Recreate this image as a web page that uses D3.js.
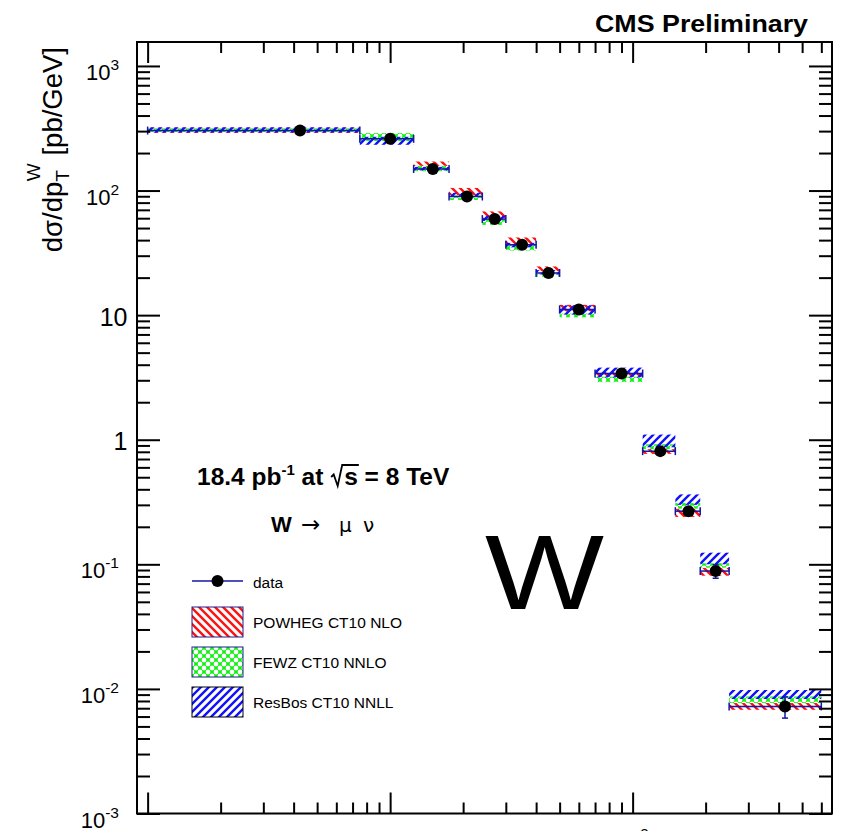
<!DOCTYPE html>
<html><head><meta charset="utf-8">
<script src="https://cdn.jsdelivr.net/npm/d3@7"></script>
<style>body{margin:0;background:#fff}svg{display:block;font-family:"Liberation Sans",Arial,Helvetica,sans-serif}</style>
</head><body><svg id="c" width="864" height="831"></svg>
<script>
// ---- data ----
const binLow  = [1, 7.5, 12.5, 17.5, 24, 30, 40, 50, 70, 110, 150, 190, 250];
const binHigh = [7.5, 12.5, 17.5, 24, 30, 40, 50, 70, 110, 150, 190, 250, 600];
const binCenter = [4.25, 10, 15, 20.75, 27, 35, 45, 60, 90, 130, 170, 220, 425];
const dataVal = [303, 260, 149, 89.6, 59, 36.7, 21.8, 11.1, 3.40, 0.81, 0.267, 0.0883, 0.00723];
const dataErr = [3, 3, 2, 1.3, 0.9, 0.6, 0.4, 0.25, 0.08, 0.03, 0.018, 0.011, 0.0014];
const powhegLow  = [290, 250, 155, 92, 59, 37, 22.4, 10.7, 3.2, 0.77, 0.24, 0.081, 0.0068];
const powhegHigh = [320, 285, 171, 105, 68, 42, 24.6, 12.1, 3.5, 0.87, 0.28, 0.094, 0.0078];
const fewzLow    = [295, 250, 143, 84, 53, 33, 20.3, 9.6, 2.9, 0.84, 0.28, 0.094, 0.0077];
const fewzHigh   = [315, 290, 158, 91, 58, 37, 21.5, 10.3, 3.2, 0.92, 0.31, 0.102, 0.0087];
const resbosLow  = [292, 233, 145, 89, 57, 35, 21.2, 10.1, 3.16, 0.87, 0.30, 0.100, 0.0083];
const resbosHigh = [322, 270, 155, 96, 63, 38, 23.0, 12.0, 3.79, 1.10, 0.364, 0.124, 0.0098];
const yTickValues = [1e-3, 1e-2, 1e-1, 1, 10, 100, 1000];
const yTickBase   = ["10", "10", "10", "1", "10", "10", "10"];
const yTickExp    = ["-3", "-2", "-1", "", "", "2", "3"];
const xTickValues = [1, 10, 100];
const xLabelValues = [100];          // only this label reaches into the visible area
const xLabelBase   = ["10"];
const xLabelExp    = ["2"];
const legendLabels = ["data", "POWHEG CT10 NLO", "FEWZ CT10 NNLO", "ResBos CT10 NNLL"];

// ---- layout ----
const L = 137, R = 832, T = 42, B = 813.5;
const x = d3.scaleLog().domain([0.904, 664]).range([L, R]);
const y = d3.scaleLog().domain([1e-3, 1557]).range([B, T]);
const svg = d3.select('#c');
const defs = svg.append('defs');
const blueLine = '#1414a8';

// patterns
const pr = defs.append('pattern').attr('id','pRed').attr('patternUnits','userSpaceOnUse').attr('width',8).attr('height',8);
pr.append('path').attr('d','M0,0 L8,8 M-4,4 L4,12 M4,-4 L12,4').attr('stroke','#ff1010').attr('stroke-width',2.4);
const pb = defs.append('pattern').attr('id','pBlue').attr('patternUnits','userSpaceOnUse').attr('width',8).attr('height',8);
pb.append('path').attr('d','M0,8 L8,0 M-4,4 L4,-4 M4,12 L12,4').attr('stroke','#1010ff').attr('stroke-width',2.4);
const pg = defs.append('pattern').attr('id','pGreen').attr('patternUnits','userSpaceOnUse').attr('width',8).attr('height',8);
pg.append('rect').attr('width',8).attr('height',8).attr('fill','#10f010');
[[0,0],[8,0],[0,8],[8,8],[4,4]].forEach(p=>pg.append('circle').attr('cx',p[0]).attr('cy',p[1]).attr('r',2.4).attr('fill','#fff'));

// bands
const models = [
  {id:'pRed', lo:powhegLow, hi:powhegHigh},
  {id:'pGreen', lo:fewzLow, hi:fewzHigh},
  {id:'pBlue', lo:resbosLow, hi:resbosHigh}
];
models.forEach(m => {
  svg.append('g').selectAll('rect').data(binLow).join('rect')
    .attr('x', (d,i) => x(binLow[i]))
    .attr('width', (d,i) => x(binHigh[i]) - x(binLow[i]))
    .attr('y', (d,i) => y(m.hi[i]))
    .attr('height', (d,i) => y(m.lo[i]) - y(m.hi[i]))
    .attr('fill', `url(#${m.id})`);
});

// data error bars
const gd = svg.append('g').attr('stroke', blueLine).attr('stroke-width', 1.5).attr('fill','none');
dataVal.forEach((v,i) => {
  const yy = y(v), x0 = x(binLow[i]), x1 = x(binHigh[i]), xc = x(binCenter[i]);
  gd.append('line').attr('x1',x0).attr('x2',x1).attr('y1',yy).attr('y2',yy);
  gd.append('line').attr('x1',x0).attr('x2',x0).attr('y1',yy-4).attr('y2',yy+4);
  gd.append('line').attr('x1',x1).attr('x2',x1).attr('y1',yy-4).attr('y2',yy+4);
  const ya = y(v + dataErr[i]), yb = y(v - dataErr[i]);
  gd.append('line').attr('x1',xc).attr('x2',xc).attr('y1',ya).attr('y2',yb);
  if (yb - ya > 10) {
    gd.append('line').attr('x1',xc-3).attr('x2',xc+3).attr('y1',ya).attr('y2',ya);
    gd.append('line').attr('x1',xc-3).attr('x2',xc+3).attr('y1',yb).attr('y2',yb);
  }
});
svg.append('g').selectAll('circle').data(dataVal).join('circle')
  .attr('cx', (d,i) => x(binCenter[i])).attr('cy', d => y(d)).attr('r', 6).attr('fill', '#000');

// axes
const yMinor = [];
for (let k = -3; k <= 3; k++) for (let m = 2; m <= 9; m++) { const v = m * Math.pow(10,k); if (v < 1557) yMinor.push(v); }
const xMinor = [];
for (let k = 0; k <= 2; k++) for (let m = 2; m <= 9; m++) { const v = m * Math.pow(10,k); if (v < 664) xMinor.push(v); }
function styleAxis(g){ g.select('.domain').remove(); g.selectAll('line').attr('stroke','#000').attr('stroke-width',2); g.selectAll('text').remove(); }
svg.append('g').attr('transform',`translate(${L},0)`).call(d3.axisRight(y).tickValues(yTickValues).tickSize(23).tickFormat('')).call(styleAxis);
svg.append('g').attr('transform',`translate(${L},0)`).call(d3.axisRight(y).tickValues(yMinor).tickSize(13).tickFormat('')).call(styleAxis);
svg.append('g').attr('transform',`translate(${R},0)`).call(d3.axisLeft(y).tickValues(yTickValues).tickSize(23).tickFormat('')).call(styleAxis);
svg.append('g').attr('transform',`translate(${R},0)`).call(d3.axisLeft(y).tickValues(yMinor).tickSize(13).tickFormat('')).call(styleAxis);
svg.append('g').attr('transform',`translate(0,${B})`).call(d3.axisTop(x).tickValues(xTickValues).tickSize(21).tickFormat('')).call(styleAxis);
svg.append('g').attr('transform',`translate(0,${B})`).call(d3.axisTop(x).tickValues(xMinor).tickSize(11).tickFormat('')).call(styleAxis);
svg.append('g').attr('transform',`translate(0,${T})`).call(d3.axisBottom(x).tickValues(xTickValues).tickSize(21).tickFormat('')).call(styleAxis);
svg.append('g').attr('transform',`translate(0,${T})`).call(d3.axisBottom(x).tickValues(xMinor).tickSize(11).tickFormat('')).call(styleAxis);
svg.append('rect').attr('x',L).attr('y',T).attr('width',R-L).attr('height',B-T).attr('fill','none').attr('stroke','#000').attr('stroke-width',2);

// y tick labels
yTickValues.forEach((v,i) => {
  if (yTickExp[i] === '') {
    svg.append('text').attr('x',127.5).attr('y',y(v)+10.5).attr('text-anchor','end').attr('font-size',25).text(yTickBase[i]);
  } else {
    const t = svg.append('text').attr('x',119).attr('y',y(v)+14).attr('text-anchor','end').attr('font-size',22);
    t.append('tspan').text(yTickBase[i]);
    t.append('tspan').attr('dy',-10).attr('font-size',15.5).text(yTickExp[i]);
  }
});
// x tick label (only the exponent peeks into view)
xLabelValues.forEach((v,i) => {
  const t = svg.append('text').attr('x',x(v)).attr('y',850).attr('text-anchor','middle').attr('font-size',21);
  t.append('tspan').text(xLabelBase[i]);
  t.append('tspan').attr('dy',-11).attr('font-size',15).text(xLabelExp[i]);
});

// y title
const yt = svg.append('text').attr('transform','translate(62,47) rotate(-90)').attr('text-anchor','end').attr('font-size',27.5);
yt.append('tspan').text('dσ/dp');
yt.append('tspan').attr('font-size',19).attr('dy',7).text('T');
yt.append('tspan').attr('font-size',19).attr('dx',-11).attr('dy',-29).text('W');
yt.append('tspan').attr('dy',22).text(' [pb/GeV]');

// titles
svg.append('text').attr('x',595).attr('y',32).attr('font-size',23).attr('font-weight','bold').attr('textLength',213).attr('lengthAdjust','spacingAndGlyphs').text('CMS Preliminary');
const fs = 24.5;
const by = 485;
const lt = svg.append('text').attr('x',197).attr('y',by).attr('font-size',fs).attr('font-weight','bold');
lt.append('tspan').text('18.4 pb');
lt.append('tspan').attr('dy',-10).attr('font-size',15).text('-1');
lt.append('tspan').attr('dy',10).text(' at ');
lt.append('tspan').attr('dx',14).text('s = 8 TeV');
const full = lt.text();
const sIdx = full.indexOf('s = 8');
const ext = lt.node().getExtentOfChar(sIdx);
const sx0 = ext.x, sx1 = ext.x + ext.width;
// radical sign drawn as a path (as in ROOT's #sqrt)
svg.append('path')
  .attr('d', `M${sx0-13},${by-8} L${sx0-10.5},${by-10.5} L${sx0-6.5},${by+1} L${sx0-2},${by-20} L${sx1+1},${by-20}`)
  .attr('fill','none').attr('stroke','#000').attr('stroke-width',1.8).attr('stroke-linejoin','miter');

const wt = svg.append('text').attr('y',532).attr('font-size',22);
wt.append('tspan').attr('x',271).attr('font-weight','bold').text('W');
wt.append('tspan').attr('x',301).attr('font-family','DejaVu Sans').attr('font-size',23).text('→');
wt.append('tspan').attr('x',339).attr('font-family','DejaVu Sans').attr('font-size',20).text('μ');
wt.append('tspan').attr('x',363).attr('font-family','DejaVu Sans').attr('font-size',20).text('ν');

svg.append('text').attr('x',485).attr('y',609).attr('font-size',106).attr('textLength',119).attr('lengthAdjust','spacingAndGlyphs').text('W');

// legend
const lg = svg.append('g');
lg.append('line').attr('x1',192).attr('x2',243).attr('y1',581).attr('y2',581).attr('stroke',blueLine).attr('stroke-width',1.5);
lg.append('circle').attr('cx',217.5).attr('cy',581).attr('r',6).attr('fill','#000');
const boxY = [607, 647, 687];
const boxFill = ['pRed','pGreen','pBlue'];
const boxStroke = ['#202090','#202090','#000'];
boxY.forEach((bY,i) => {
  lg.append('rect').attr('x',192).attr('y',bY).attr('width',51).attr('height',30).attr('fill',`url(#${boxFill[i]})`).attr('stroke',boxStroke[i]).attr('stroke-width',1);
});
const textY = [588, 628, 668, 708];
legendLabels.forEach((s,i) => {
  lg.append('text').attr('x',253).attr('y',textY[i]).attr('font-size',15.5).text(s);
});
</script></body></html>
